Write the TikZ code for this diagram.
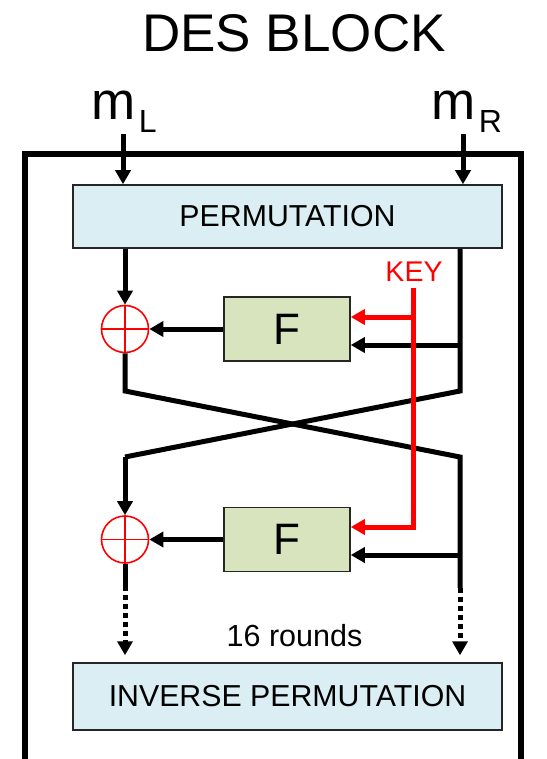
\documentclass[tikz,border=0pt]{standalone}
\usepackage{fontspec}
\setmainfont{Liberation Sans}
\usetikzlibrary{arrows.meta}
\definecolor{permfill}{HTML}{DAEEF3}
\definecolor{ffill}{HTML}{D7E4BD}
\definecolor{keyred}{HTML}{FF0000}
\tikzset{
  wire/.style={line width=5pt, line join=miter},
  arr/.style={wire, -{Triangle[width=15pt,length=14pt]}},
  dotarr/.style={arr, dash pattern=on 5pt off 4pt, shorten >=7pt},
  redwire/.style={line width=5pt, keyred, line join=miter, -{Triangle[width=15pt,length=14pt]}},
  pbox/.style={draw=black!85, line width=1.5pt, fill=permfill, minimum width=429pt, inner sep=0pt, font=\fontsize{30.3}{30.3}\selectfont},
  fbox/.style={draw=black!85, line width=1.5pt, fill=ffill, minimum width=126pt, minimum height=64pt, inner sep=0pt, font=\fontsize{44}{44}\selectfont},
  xorc/.style={circle, draw=keyred, line width=1.6pt, minimum size=47pt, inner sep=0pt},
  smalltext/.style={font=\fontsize{30.5}{30.5}\selectfont, inner sep=0pt},
}
\begin{document}
\begin{tikzpicture}[x=1pt,y=-1pt]
\useasboundingbox (0,0) rectangle (546,759);
% frame
\draw[line width=5.5pt, line join=miter] (25,765) -- (25,154) -- (521,154) -- (521,765);
% title and inputs
\node[anchor=base, inner sep=0pt, font=\fontsize{53}{53}\selectfont] (title) at (294,51.7) {DES BLOCK};
\node[anchor=base west, inner sep=0pt, font=\fontsize{53}{53}\selectfont] (mL) at (91.5,120) {m\kern3pt\raisebox{-13pt}{\fontsize{32}{32}\selectfont L}};
\node[anchor=base west, inner sep=0pt, font=\fontsize{53}{53}\selectfont] (mR) at (431.5,120) {m\kern3pt\raisebox{-13pt}{\fontsize{32}{32}\selectfont R}};
% boxes
\node[pbox, minimum height=63pt] (perm) at (287.5,216.5) {PERMUTATION};
\node[pbox, minimum height=67pt] (inv) at (287.5,696.5) {INVERSE PERMUTATION};
\node[fbox] (F1) at (287,329) {F};
\node[fbox] (F2) at (287,539.5) {F};
\node[xorc] (x1) at (125,329) {};
\node[xorc] (x2) at (125,539.5) {};
\draw[keyred, line width=1.6pt] (x1.north) -- (x1.south) (x1.west) -- (x1.east);
\draw[keyred, line width=1.6pt] (x2.north) -- (x2.south) (x2.west) -- (x2.east);
\node[inner sep=0pt, font=\fontsize{28.5}{28.5}\selectfont, text=keyred, anchor=base] (key) at (414,281.7) {KEY};
\node[smalltext, anchor=base] (rounds) at (294.5,646) {16 rounds};
% coordinates
\coordinate (inL) at (123,134);
\coordinate (inR) at (463,134);
\coordinate (r1) at (460,391);
\coordinate (l1) at (125,391);
\coordinate (r2) at (460,457);
\coordinate (l2) at (125,457);
\coordinate (b1) at (460,345);
\coordinate (b2) at (460,555);
\coordinate (dL) at (125,586);
\coordinate (dR) at (460,588);
\coordinate (k0) at (413,288);
\coordinate (k1) at (413,317);
\coordinate (k2) at (413,527);
% inputs
\draw[arr] (inL) -- (perm.north -| inL);
\draw[arr] (inR) -- (perm.north -| inR);
% round 1
\draw[arr] (perm.south -| x1) -- (x1.north);
\draw[arr] (F1.west) -- (x1.east);
\draw[wire] (perm.south -| r1) -- (r1) -- (l2);
\draw[arr] (l2) -- (x2.north);
\draw[arr] (b1) -- (b1 -| F1.east);
\draw[wire] (x1.south) -- (l1) -- (r2) -- (dR);
% round 2
\draw[arr] (F2.west) -- (x2.east);
\draw[arr] (b2) -- (b2 -| F2.east);
\draw[wire] (x2.south) -- (dL);
\draw[dotarr] (dL) -- (inv.north -| dL);
\draw[dotarr] (dR) -- (inv.north -| dR);
% key
\draw[redwire] (k0) -- (k2) -- (k2 -| F2.east);
\draw[redwire] (k1) -- (k1 -| F1.east);
\end{tikzpicture}
\end{document}
